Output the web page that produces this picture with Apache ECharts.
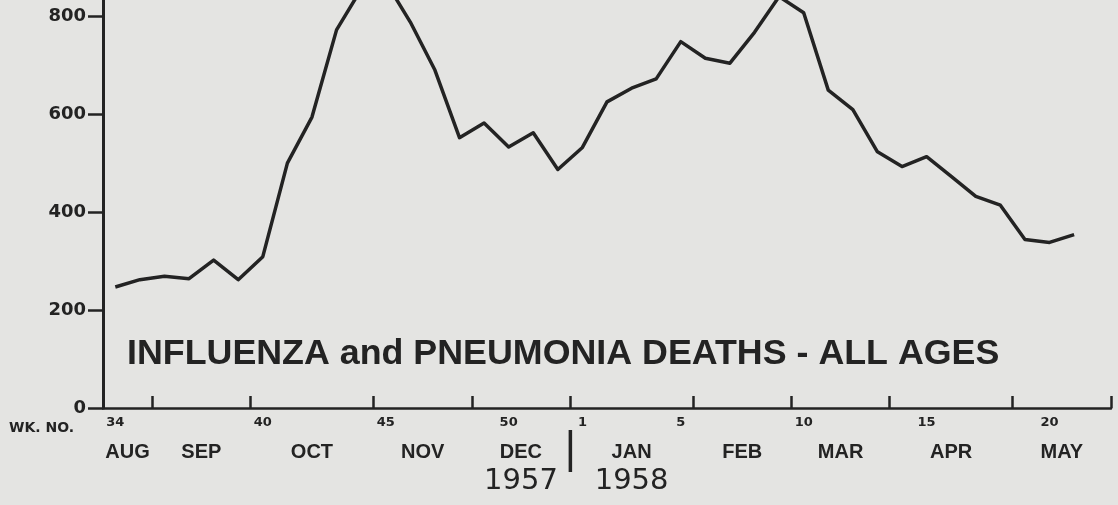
<!DOCTYPE html>
<html><head><meta charset="utf-8">
<script src="https://cdn.jsdelivr.net/npm/echarts@6/dist/echarts.min.js"></script>
<style>html,body{margin:0;padding:0;background:#e4e4e2;} #c{width:1118px;height:505px;}</style>
</head><body><div id="c"></div>
<script>
// ---- data ----
const weeks = ['34','35','36','37','38','39','40','41','42','43','44','45','46','47','48','49','50','51','52',
               '1','2','3','4','5','6','7','8','9','10','11','12','13','14','15','16','17','18','19','20','21'];
const deaths = [247,262,269,264,302,262,309,500,594,772,855,870,788,690,552,582,533,562,487,
                532,625,653,672,748,714,704,767,840,807,649,609,523,493,513,473,432,414,344,338,354];
const weekTickLabels = ['34','40','45','50','1','5','10','15','20'];
const months = ['AUG','SEP','OCT','NOV','DEC','JAN','FEB','MAR','APR','MAY'];
const monthStartWeeks = ['34','36','40','45','49','1','6','10','14','19'];
const years = ['1957','1958'];
const yearMonths = ['DEC','JAN'];
const yTicks = [0,200,400,600,800];
const titleText = 'INFLUENZA and PNEUMONIA DEATHS - ALL AGES';
const weekNoText = 'WK. NO.';

// ---- derived axis structure ----
const xMin = -0.5, xMax = weeks.length + 0.5;
const monthStarts = monthStartWeeks.map(w => weeks.indexOf(w) - 0.5);
const monthEnds = monthStarts.slice(1).concat([xMax]);
const monthCenters = monthStarts.map((s, i) => (s + monthEnds[i]) / 2);
const monthTicks = monthEnds.slice();
const weekTickPos = weekTickLabels.map(w => weeks.indexOf(w));
const yearPos = yearMonths.map(m => monthCenters[months.indexOf(m)]);
const yearSep = monthStarts[months.indexOf(yearMonths[1])];

function nearestLabel(v, positions, labels) {
  let bi = 0, bd = Infinity;
  positions.forEach((p, i) => { const d = Math.abs(p - v); if (d < bd) { bd = d; bi = i; } });
  return labels[bi];
}

const ink = '#232323';
const chart = echarts.init(document.getElementById('c'), null, {renderer: 'canvas'});
const option = {
  backgroundColor: '#e4e4e2',
  animation: false,
  title: [
    {text: titleText, left: 122, top: 331,
     textStyle: {fontFamily: 'Liberation Sans', fontWeight: 'bold', fontSize: 35.8, color: ink}},
    {text: weekNoText, left: 4, top: 416,
     textStyle: {fontFamily: 'DejaVu Sans', fontWeight: 'bold', fontSize: 14, color: ink}}
  ],
  grid: {left: 103, right: 7, top: 0, bottom: 97},
  xAxis: [
    {type: 'value', min: xMin, max: xMax, position: 'bottom',
     axisLine: {show: true, onZero: false, lineStyle: {color: ink, width: 2.5}},
     axisTick: {show: true, inside: true, length: 12, customValues: monthTicks, lineStyle: {color: ink, width: 2.5}},
     axisLabel: {show: true, customValues: weekTickPos, margin: 8,
       formatter: v => weeks[Math.round(v)],
       fontFamily: 'DejaVu Sans', fontWeight: 'bold', fontSize: 13, color: ink},
     splitLine: {show: false}},
    {type: 'value', min: xMin, max: xMax, position: 'bottom',
     axisLine: {show: false}, axisTick: {show: false}, splitLine: {show: false},
     axisLabel: {show: true, customValues: monthCenters, margin: 34,
       formatter: v => nearestLabel(v, monthCenters, months),
       fontFamily: 'Liberation Sans', fontWeight: 'bold', fontSize: 20, color: ink}},
    {type: 'value', min: xMin, max: xMax, position: 'bottom',
     axisLine: {show: false}, axisTick: {show: false}, splitLine: {show: false},
     axisLabel: {show: true, customValues: yearPos, margin: 59,
       formatter: v => nearestLabel(v, yearPos, years),
       fontFamily: 'DejaVu Sans', fontWeight: 'normal', fontSize: 29, color: ink}}
  ],
  yAxis: {
    type: 'value', min: 0, max: 833,
    axisLine: {show: true, onZero: false, lineStyle: {color: ink, width: 3}},
    axisTick: {show: true, inside: false, length: 15, customValues: yTicks, lineStyle: {color: ink, width: 2.5}},
    axisLabel: {show: true, customValues: yTicks, margin: 17,
      fontFamily: 'DejaVu Sans', fontWeight: 'bold', fontSize: 18, color: ink},
    splitLine: {show: false}
  },
  series: [{
    type: 'line', xAxisIndex: 0, yAxisIndex: 0,
    data: deaths.map((d, i) => [i, d]),
    showSymbol: false, clip: true,
    lineStyle: {color: ink, width: 3.5, join: 'round'}
  }]
};
chart.setOption(option);
const sepX = chart.convertToPixel({xAxisIndex: 0}, yearSep);
const axisY = chart.convertToPixel({yAxisIndex: 0}, 0);
chart.setOption({graphic: [{type: 'rect', shape: {x: sepX - 1.5, y: axisY + 22, width: 3.5, height: 42},
  style: {fill: ink}}]});
</script></body></html>
